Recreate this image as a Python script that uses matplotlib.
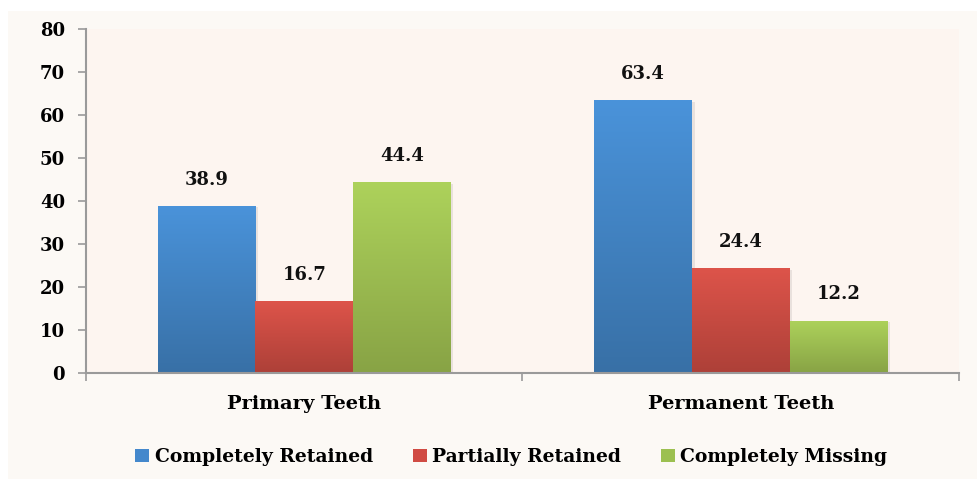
import matplotlib
matplotlib.use("Agg")
import matplotlib.pyplot as plt
import numpy as np
from matplotlib.patches import Rectangle
from matplotlib.colors import LinearSegmentedColormap

categories = ["Primary Teeth", "Permanent Teeth"]
series_names = ["Completely Retained", "Partially Retained", "Completely Missing"]
completely_retained = [38.9, 63.4]
partially_retained = [16.7, 24.4]
completely_missing = [44.4, 12.2]
y_ticks = [0, 10, 20, 30, 40, 50, 60, 70, 80]

series = [completely_retained, partially_retained, completely_missing]
grad = [("#4a93da", "#3870a6"), ("#dd544a", "#ad4038"), ("#add25b", "#88a345")]
solid = ["#4488cc", "#d04b43", "#9cc050"]

plt.rcParams['font.family'] = ['DejaVu Serif']
plt.rcParams['font.weight'] = 'bold'

fig = plt.figure(figsize=(9.78, 4.79), dpi=100)
fig.patch.set_facecolor("white")
fig.patches.append(Rectangle((8/978, 0), 1, 1 - 11/479, transform=fig.transFigure,
                             facecolor="#fcf9f5", edgecolor="none", zorder=-10))

L, R, T, B = 86, 959, 29, 373
ax = fig.add_axes([L/978, 1 - B/479, (R-L)/978, (B-T)/479])
ax.set_facecolor("#fdf5f0")

bw = 0.2234
x = np.arange(len(categories))
for i, (vals, (ctop, cbot)) in enumerate(zip(series, grad)):
    pos = x + (i - 1) * bw
    ax.bar(pos + 0.006, vals, bw, bottom=-0.4, color="#000000", alpha=0.08, zorder=1, linewidth=0)
    bars = ax.bar(pos, vals, bw, color=solid[i], zorder=2, linewidth=0, label=series_names[i])
    cmap = LinearSegmentedColormap.from_list("g%d" % i, [cbot, ctop])
    for b, v in zip(bars, vals):
        x0 = b.get_x()
        img = ax.imshow(np.linspace(0, 1, 256).reshape(-1, 1), cmap=cmap, origin="lower",
                        extent=[x0, x0 + bw, 0, v], aspect="auto", zorder=3,
                        vmin=0, vmax=1)
        img.set_clip_path(b)
        ax.text(x0 + bw/2, v + 4.0, f"{v:.1f}", ha="center", va="bottom",
                fontsize=13, fontweight="bold", color="#111111", zorder=5)
ax.set_xlim(-0.5, 1.5)
ax.set_ylim(0, 80)

for s in ["top", "right"]:
    ax.spines[s].set_visible(False)
for s in ["left", "bottom"]:
    ax.spines[s].set_color("#9a9a9a")
    ax.spines[s].set_linewidth(1.5)
    ax.spines[s].set_zorder(6)

ax.set_yticks(y_ticks)
ax.set_yticklabels([str(t) for t in y_ticks], fontsize=13, fontweight="bold")
ax.tick_params(axis="y", length=6, width=1.2, color="#9a9a9a", pad=9)
ax.set_xticks([-0.5, 0.5, 1.5])
ax.set_xticklabels([])
ax.tick_params(axis="x", which="major", length=6, width=1.2, color="#9a9a9a")
ax.set_xticks(x, minor=True)
ax.set_xticklabels(categories, minor=True, fontsize=14, fontweight="bold")
ax.tick_params(axis="x", which="minor", length=0, pad=16)

handles, labels = ax.get_legend_handles_labels()
leg = fig.legend(handles[:3], labels[:3], loc="center", bbox_to_anchor=(0.523, 1 - 457/479),
                 ncol=3, frameon=False, prop={"size": 13.5, "weight": "bold"},
                 handlelength=0.75, handleheight=0.75, handletextpad=0.3, columnspacing=2.1)

fig.savefig("out.png", dpi=100, facecolor=fig.get_facecolor())
